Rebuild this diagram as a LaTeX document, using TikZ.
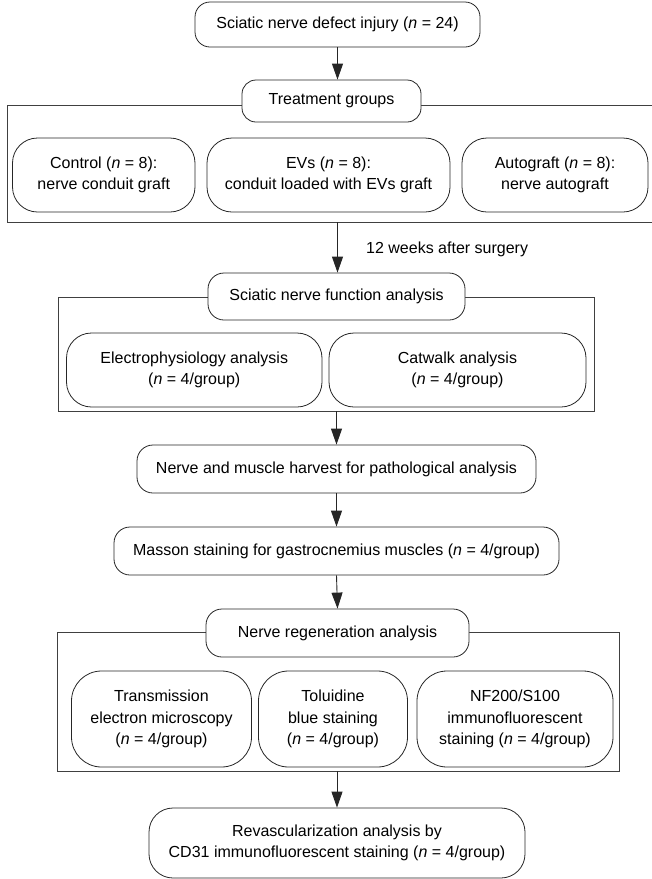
\documentclass[tikz,border=0pt]{standalone}
\usepackage{fontspec}
\setmainfont{Liberation Sans}
\usetikzlibrary{arrows.meta}
\newcommand\myfs{\fontsize{16}{21.5}\selectfont}
\tikzset{
  box/.style={draw=black!85, line width=0.8pt, fill=white, align=center, inner sep=0pt, font=\myfs},
  frame/.style={draw=black!75, line width=0.9pt, inner sep=0pt},
  arr/.style={draw=black!85, line width=0.9pt, -{Triangle[length=16pt,width=11pt]}},
  lbl/.style={font=\myfs, inner sep=0pt}
}
\begin{document}
\begin{tikzpicture}[x=1pt,y=-1pt]
\useasboundingbox (0,0) rectangle (652,879);
% frames
\draw[frame] (652,105) -- (7,105) -- (7,222) -- (652,222);
\coordinate (f1b) at (337.5,222);
\node[frame, minimum width=536pt, minimum height=114pt] (f2) at (326,354) {};
\node[frame, minimum width=562pt, minimum height=139pt] (f3) at (338,701.5) {};
% boxes
\node[box, minimum width=285pt, minimum height=45pt, rounded corners=15pt] (top) at (337.5,24.5) {Sciatic nerve defect injury (\textit{n} = 24)};
\node[box, minimum width=179pt, minimum height=42pt, rounded corners=14pt] (treat) at (331.5,101) {Treatment groups};
\node[box, minimum width=182.5pt, minimum height=74pt, rounded corners=25pt] (ctrl) at (103.75,175) {Control (\textit{n} = 8):\\nerve conduit graft};
\node[box, minimum width=243pt, minimum height=74pt, rounded corners=25pt] (evs) at (328.5,175) {EVs (\textit{n} = 8):\\conduit loaded with EVs graft};
\node[box, minimum width=186pt, minimum height=74pt, rounded corners=25pt] (auto) at (555,175) {Autograft (\textit{n} = 8):\\nerve autograft};
\node[box, minimum width=257pt, minimum height=47pt, rounded corners=16pt] (func) at (336.5,296.5) {Sciatic nerve function analysis};
\node[box, minimum width=255.5pt, minimum height=74pt, rounded corners=25pt] (elec) at (194.25,370) {Electrophysiology analysis\\(\textit{n} = 4/group)};
\node[box, minimum width=257pt, minimum height=74pt, rounded corners=25pt] (cat) at (457.5,370) {Catwalk analysis\\(\textit{n} = 4/group)};
\node[box, minimum width=399pt, minimum height=48pt, rounded corners=16pt] (harv) at (336.5,469) {Nerve and muscle harvest for pathological analysis};
\node[box, minimum width=445pt, minimum height=48pt, rounded corners=16pt] (mass) at (336.5,551) {Masson staining for gastrocnemius muscles (\textit{n} = 4/group)};
\node[box, minimum width=263pt, minimum height=48pt, rounded corners=16pt] (regen) at (337.5,633) {Nerve regeneration analysis};
\node[box, minimum width=180pt, minimum height=96pt, rounded corners=30pt] (tem) at (161.5,719) {Transmission\\electron microscopy\\(\textit{n} = 4/group)};
\node[box, minimum width=149pt, minimum height=96pt, rounded corners=30pt] (tol) at (333,719) {Toluidine\\blue staining\\(\textit{n} = 4/group)};
\node[box, minimum width=196pt, minimum height=96pt, rounded corners=30pt] (nf) at (515,719) {NF200/S100\\immunofluorescent\\staining (\textit{n} = 4/group)};
\node[box, minimum width=376pt, minimum height=70pt, rounded corners=24pt] (rev) at (337,843) {Revascularization analysis by\\CD31 immunofluorescent staining (\textit{n} = 4/group)};
% label
\node[lbl, anchor=west] (wk) at (366,249) {12 weeks after surgery};
% arrows
\draw[arr] (top.south) -- (top.south |- treat.north);
\draw[arr] (f1b) -- (f1b |- func.north);
\draw[arr] (f2.south -| harv.north) -- (harv.north);
\draw[arr] (harv.south) -- (mass.north);
\draw[arr] (mass.south) -- (regen.north);
\draw[arr] (f3.south -| rev.north) -- (rev.north);
\end{tikzpicture}
\end{document}
